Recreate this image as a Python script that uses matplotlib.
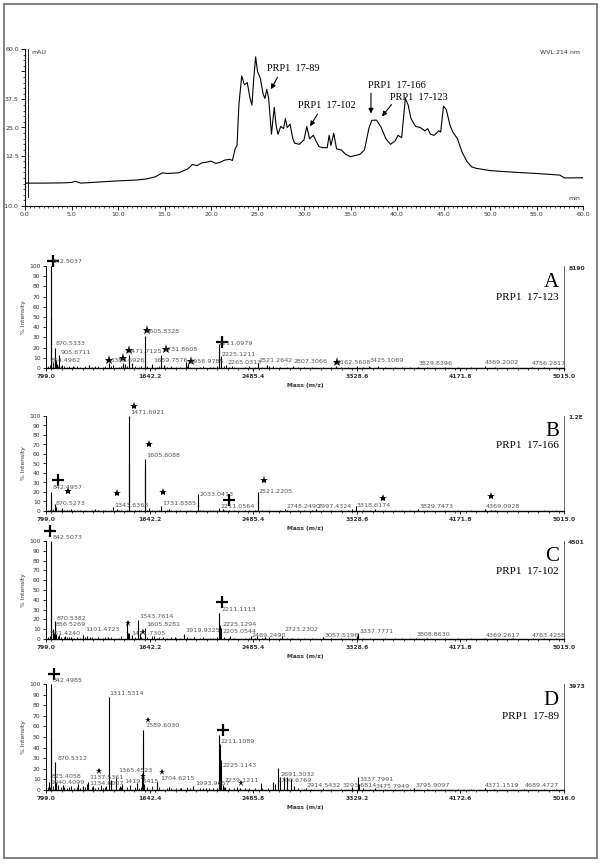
import numpy as np
import matplotlib.pyplot as plt
from matplotlib.patches import Rectangle
from matplotlib.ticker import MultipleLocator

W, H = 601, 863
SERIF = 'Liberation Serif'
GREY = '#555555'

# ---------------- chromatogram (min, mAU) ----------------
chrom_t = [0.0, 2.0, 4.0, 5.0, 5.4, 6.0, 8.0, 10.0, 12.0, 13.0, 14.0, 14.8, 15.3, 16.5, 17.5,
           18.0, 18.5, 19.0, 19.5, 20.0, 20.5, 21.0, 21.5, 22.0, 22.3, 22.6, 22.8, 23.0, 23.3,
           23.6, 23.9, 24.2, 24.4, 24.6, 24.8, 25.0, 25.3, 25.6, 25.8, 26.0, 26.2, 26.5, 26.8,
           27.0, 27.2, 27.5, 27.8, 28.0, 28.2, 28.5, 28.8, 29.0, 29.5, 30.0, 30.3, 30.6, 31.0,
           31.3, 31.6, 32.0, 32.5, 32.7, 32.9, 33.2, 33.5, 34.0, 34.5, 35.0, 35.5, 36.0, 36.5,
           37.0, 37.3, 37.8, 38.3, 38.8, 39.3, 39.8, 40.1, 40.5, 40.9, 41.2, 41.5, 42.0, 42.5,
           43.0, 43.3, 43.6, 44.0, 44.5, 44.7, 45.0, 45.3, 45.7, 46.0, 46.5, 47.0, 47.5, 48.0,
           48.5, 50.0, 52.0, 55.0, 57.5, 58.0, 60.0]
chrom_v = [0.2, 0.2, 0.3, 0.5, 1.0, 0.2, 0.7, 1.2, 1.6, 2.0, 3.0, 4.8, 4.5, 4.8, 6.5,
           8.5, 8.0, 9.2, 9.5, 10.0, 9.0, 9.5, 10.5, 10.8, 10.3, 15.5, 17.0, 35.0, 48.0,
           44.0, 45.0, 38.0, 35.0, 47.0, 56.5, 50.0, 47.0, 40.0, 38.0, 42.0, 38.0, 22.0, 34.0,
           26.0, 22.0, 25.5, 24.5, 29.0, 25.0, 26.5, 20.0, 18.0, 17.5, 19.5, 25.5, 20.0, 21.5,
           19.0, 16.5, 16.0, 16.0, 21.5, 17.0, 22.5, 15.5, 15.0, 13.0, 12.0, 12.5, 13.0, 15.0,
           25.0, 28.2, 28.3, 25.0, 20.0, 17.5, 19.0, 21.5, 20.5, 38.0, 35.0, 29.0, 25.5, 25.0,
           23.5, 24.5, 22.0, 21.5, 23.5, 23.0, 34.5, 33.0, 26.0, 23.0, 20.0, 14.0, 10.0, 7.5,
           6.8, 5.8, 5.2, 4.5, 3.8, 2.5, 2.6]
chrom_yticks = [-10.0, 12.5, 25.0, 37.5, 50.0, 60.0]
chrom_ylabels = ['-10.0', '12.5', '25.0', '37.5', '', '60.0']
chrom_notes = [  # text, text pos, arrow tail, arrow head
    ('PRP1  17-89', (26.0, 51.5), (27.3, 48.5), (26.3, 41.0)),
    ('PRP1  17-102', (29.4, 35.0), (31.6, 32.0), (30.5, 24.5)),
    ('PRP1  17-166', (36.9, 43.7), (37.2, 41.5), (37.2, 30.0)),
    ('PRP1  17-123', (39.3, 38.3), (39.6, 36.2), (38.2, 29.0)),
]

# small baseline peaks shared pattern positions (m/z)
noise_mz = [815, 828, 860, 895, 918, 945, 968, 990, 1030, 1052, 1075, 1120, 1170, 1195, 1225,
            1262, 1280, 1330, 1395, 1410, 1455, 1520, 1555, 1575, 1625, 1660, 1700, 1720, 1785,
            1820, 1860, 1890, 1950, 1975, 2050, 2080, 2130, 2160, 2190, 2250, 2290, 2330, 2420,
            2450, 2500, 2560, 2610, 2700, 2760, 2850, 2900, 2960, 3050, 3120, 3200, 3260, 3380,
            3440, 3560, 3640, 3700, 3760, 3900, 4050, 4150, 4260, 4450, 4600, 4850, 4950]
A_noise = [1.5, 2.5, 3, 2, 1.5, 2, 1, 1.5, 1, 1.5, 1, 2, 1, 1.5, 1.5,
           1, 2, 1.5, 1, 2, 1.5, 2, 1, 2, 1.5, 2.5, 1, 1.5, 1,
           1.5, 1, 1, 1.5, 1, 1, 1.5, 1, 1, 1.5, 2, 1, 1, 1,
           1.5, 1, 1, 1.5, 1, 1, 1, 1, 0.8, 1, 0.8, 0.8, 1, 1,
           0.8, 0.8, 0.8, 0.8, 0.8, 0.8, 0.6, 0.8, 0.6, 0.6, 0.6, 0.6, 0.6]
B_noise = [1, 1.5, 2, 1.5, 1, 1.5, 1, 1, 1, 1.2, 1, 1.5, 1, 1, 1.2,
           1, 1.5, 1.5, 1, 1.5, 1, 1.5, 1, 1, 1.5, 1.5, 1, 1, 1,
           1, 1, 1, 1, 1, 1, 1.5, 1, 1, 1, 1.5, 1, 1, 1,
           1, 1, 1, 1, 1, 1, 1, 1, 0.8, 1, 0.8, 0.8, 1, 1,
           0.8, 0.8, 0.8, 0.8, 0.8, 0.8, 0.6, 0.8, 0.6, 0.6, 0.6, 0.6, 0.6]
C_noise = [2, 3, 4, 3, 2, 2.5, 2, 2.5, 1.5, 2, 1.5, 2.5, 2, 1.5, 2,
           1.5, 2.5, 2, 1.5, 3, 2, 2.5, 1.5, 2.5, 2, 3, 1.5, 2, 1.5,
           2, 1.5, 1.5, 2, 1.5, 1.5, 2, 1.5, 1.5, 2, 2.5, 1.5, 1.5, 1.5,
           1.5, 1.5, 1.5, 2, 1.5, 1.5, 1, 1, 1, 1.5, 1, 1, 1, 1.5,
           1, 1, 1, 1, 1, 1, 0.8, 1, 0.8, 0.8, 0.8, 0.8, 0.8]
D_noise = [2.5, 3, 4, 3, 2.5, 3, 2, 3, 2, 2.5, 2, 3, 2.5, 2, 3,
           2, 3, 2.5, 2, 3, 2.5, 3, 2, 3, 2.5, 3.5, 2, 2.5, 2,
           2, 2, 2, 2.5, 2, 1.5, 2, 1.5, 1.5, 2, 2.5, 2, 1.5, 1.5,
           1.5, 1.5, 1.5, 2, 2, 1.5, 1.5, 1, 1, 1.5, 1, 1, 1, 1.5,
           1, 1, 1, 1, 1, 1, 0.8, 1, 0.8, 0.8, 0.8, 0.8, 0.8]

# ---------------- spectrum A : PRP1 17-123 ----------------
A_mz = [842.5, 843.5, 854.5, 870.5, 878, 885, 905.7, 930, 1015, 1150, 1310, 1345, 1424, 1440,
        1471.7, 1495, 1605.8, 1659.8, 1731.9, 1760, 1935, 1957, 2211.1, 2225.1, 2265, 2310,
        2521.3, 2600, 2650, 2807.3, 3162.6, 3330, 3425.1, 3500, 3829.8, 4369.2, 4756.3]
A_int = [100, 50, 6, 20, 8, 4, 13, 3, 2, 3, 5, 3, 5, 4,
         13, 5, 31, 4, 13, 3, 6, 4, 24, 12, 3, 2,
         5, 3, 2, 2, 2, 2, 2, 1.5, 1.2, 1.5, 1]
A_lab = [(850, 104, '842.5037'), (877, 24, '870.5333'), (915, 15.4, '905.6711'),
         (836, 7.5, '854.4962'), (1325, 7.5, '1380.6926'), (1460, 16.5, '1471.7125'),
         (1605, 36, '1605.8328'), (1673, 7.5, '1659.7576'), (1755, 18.5, '1731.8608'),
         (1965, 6.5, '1956.9785'), (2200, 24.5, '2211.0979'), (2226, 13, '2225.1211'),
         (2273, 5, '2265.0313'), (2529, 7.5, '2521.2642'), (2810, 6, '2807.3066'),
         (3160, 5.5, '3162.5608'), (3429, 7.5, '3425.1069'), (3834, 4, '3829.8396'),
         (4372, 5.6, '4369.2002'), (4756, 4, '4756.2817')]
A_plus = [(852, 105), (2232, 25)]
A_star = [(1311, 8.2), (1426, 10), (1477, 17.5), (1617, 37.5), (1773, 19), (1983, 6.5), (3169, 5.6)]

# ---------------- spectrum B : PRP1 17-166 ----------------
B_mz = [842.5, 843.5, 870.5, 878, 930, 1000, 1200, 1343.6, 1380, 1471.7, 1472.7, 1605.8,
        1606.8, 1640, 1731.8, 1800, 2033.0, 2034, 2211.1, 2240, 2521.2, 2522, 2748.2,
        2997.4, 3290, 3318.6, 3480, 3829.7, 4369.1, 4420]
B_int = [20, 10, 7, 4, 3, 2, 2, 4, 2, 100, 50, 55,
         45, 3, 5, 2, 18, 8, 3, 2, 20, 10, 2,
         2, 2, 5, 2, 2, 2, 1]
B_lab = [(852, 24.8, '842.4957'), (874, 8, '870.5273'), (1352, 6.3, '1343.6368'),
         (1483, 103.5, '1471.6921'), (1617, 58.7, '1605.8088'), (1742, 8, '1731.8385'),
         (2045, 17.8, '2033.0413'), (2220, 5.2, '2211.0564'), (2529, 21, '2521.2205'),
         (2757, 4.5, '2748.2490'), (3007, 4.5, '2997.4324'), (3329, 6.3, '3318.6174'),
         (3841, 5.2, '3829.7473'), (4375, 4.5, '4369.0928')]
B_plus = [(893, 33), (2289, 12)]
B_star = [(977, 21), (1377, 18.5), (1517, 111), (1639, 71), (1752, 20), (2573, 32.5),
          (3538, 14), (4422, 16)]

# ---------------- spectrum C : PRP1 17-102 ----------------
C_mz = [842.5, 843.5, 856.5, 861.4, 870.5, 880, 905, 950, 1000, 1101.5, 1130, 1160, 1300,
        1460, 1467, 1471.7, 1500, 1543.8, 1560, 1605.8, 1680, 1750, 1850, 1919.9, 2000,
        2205, 2211.1, 2212, 2225.1, 2300, 2469.2, 2520, 2580, 2723.2, 2800, 3057.5, 3330,
        3337.8, 3808.9, 4369.3, 4763.4]
C_int = [100, 53, 10, 6, 18, 5, 4, 3, 2, 4, 3, 2, 2,
         17, 6, 6, 4, 19, 6, 11, 3, 2, 2, 5, 2,
         6, 27, 14, 11, 3, 3, 3, 2, 3, 1.5, 2, 3,
         6, 1.5, 1.5, 1]
C_lab = [(852, 103.7, '842.5073'), (883, 20.7, '870.5382'), (874, 14.6, '856.5269'),
         (836, 6, '861.4240'), (1118, 10, '1101.4723'), (1491, 6, '1471.7305'),
         (1555, 23, '1543.7614'), (1617, 14.6, '1605.8281'), (1936, 8.5, '1919.9325'),
         (2226, 30.5, '2211.1113'), (2236, 15, '2225.1294'), (2232, 7.8, '2205.0544'),
         (2476, 3.4, '2469.2490'), (2741, 9.5, '2723.2302'), (3069, 3.4, '3057.5196'),
         (3350, 7.8, '3337.7771'), (3819, 4.4, '3808.8630'), (4381, 3.7, '4369.2617'),
         (4756, 3.4, '4763.4258')]
C_plus = [(830, 110), (2235, 38)]
C_star = [(1464, 16), (1586, 7.5)]

# ---------------- spectrum D : PRP1 17-89 ----------------
D_mz = [825.4, 842.5, 843.5, 870.5, 880, 900, 940, 1000, 1060.4, 1100, 1134.6, 1137.5, 1180,
        1250, 1290, 1311.5, 1330, 1365.5, 1400, 1419.3, 1480, 1540, 1580, 1589.6, 1590.6,
        1600, 1704.6, 1800, 1900, 1994.0, 2100, 2211.1, 2212.1, 2225.1, 2239.1, 2260, 2350,
        2380, 2547, 2650, 2660, 2691.3, 2700, 2740, 2760, 2790, 2820, 2914.5, 3293, 3337.8,
        3345, 3475.8, 3795.9, 4371.2, 4689.5]
D_int = [8, 100, 50, 26, 8, 5, 5, 4, 6, 4, 6, 8, 4,
         5, 4, 88, 9, 12, 4, 6, 5, 7, 12, 57, 45,
         6, 8, 3, 2, 4, 2, 52, 43, 28, 5, 3, 3,
         2, 7, 8, 6, 21, 12, 12, 12, 10, 4, 2, 3, 12,
         6, 2, 2, 1.5, 1]
D_lab = [(850, 103, '842.4985'), (1311, 91, '1311.5314'), (893, 30, '870.5312'),
         (843, 13, '825.4058'), (836, 7, '1040.4099'), (1155, 11.6, '1137.5361'),
         (1155, 6, '1134.6007'), (1383, 18, '1365.4523'), (1436, 8, '1419.3415'),
         (1605, 60.7, '1589.6030'), (1727, 10.7, '1704.6215'), (2014, 5.7, '1993.9657'),
         (2223, 46, '2211.1089'), (2236, 23, '2225.1143'), (2252, 9.4, '2239.1211'),
         (2711, 15, '2691.3032'), (2680, 8.8, '2700.6769'), (2923, 3.8, '2914.5432'),
         (3211, 4, '3293.6814'), (3351, 10, '3337.7991'), (3486, 3, '3475.7949'),
         (3804, 4.7, '3795.9097'), (4373, 3.8, '4371.1519'), (4695, 3.8, '4689.4727')]
D_plus = [(862, 109), (2236, 56.6)]
D_star = [(1233, 18), (1586, 13.5), (1630, 66), (1742, 17), (2389, 7)]

ticks_abc = [799.0, 1642.2, 2485.4, 3328.6, 4171.8, 5015.0]
ticks_d = [799.0, 1642.4, 2485.8, 3329.2, 4172.6, 5016.0]


def rect(x0, x1, ytop, ybot):
    return [x0 / W, 1 - ybot / H, (x1 - x0) / W, (ybot - ytop) / H]


fig = plt.figure(figsize=(W / 100, H / 100), dpi=100)
fig.patches.append(Rectangle((4 / W, 1 - 858 / H), 593 / W, 854 / H, transform=fig.transFigure,
                             fill=False, edgecolor='#777777', lw=1.3))

# chromatogram
ax = fig.add_axes(rect(25, 583, 49, 206))
ax.plot(chrom_t, chrom_v, color='k', lw=0.8)
ax.set_xlim(0, 60)
ax.set_ylim(-10, 60)
ax.set_xticks(np.arange(0, 61, 5))
ax.set_xticklabels(['%.1f' % v for v in np.arange(0, 61, 5)])
ax.xaxis.set_minor_locator(MultipleLocator(0.5))
ax.set_yticks(chrom_yticks)
ax.set_yticklabels(chrom_ylabels)
ax.yaxis.set_minor_locator(MultipleLocator(2.5))
for s in ['top', 'right']:
    ax.spines[s].set_visible(False)
for s in ['left', 'bottom']:
    ax.spines[s].set_linewidth(0.8)
ax.tick_params(labelsize=4.5, length=3, width=0.6, pad=1.5, labelcolor='#333333')
ax.tick_params(which='minor', length=1.5, width=0.5)
ax.plot([0.006, 0.006], [0.06, 1.0], transform=ax.transAxes, color='k', lw=0.6, clip_on=False)
ax.text(0.012, 0.995, 'mAU', transform=ax.transAxes, fontsize=4.5, va='top', color='#333333')
ax.text(0.995, 0.995, 'WVL:214 nm', transform=ax.transAxes, fontsize=4.5, va='top', ha='right',
        color='#333333')
ax.text(0.995, 0.03, 'min', transform=ax.transAxes, fontsize=4.5, va='bottom', ha='right',
        color='#333333')
for txt, pos, tail, head in chrom_notes:
    ax.text(pos[0], pos[1], txt, fontsize=7.5, family=SERIF, va='center')
    ax.annotate('', xy=head, xytext=tail,
                arrowprops=dict(arrowstyle='-|>', lw=0.8, color='k', mutation_scale=7))


def spectrum(box, mz, inten, noise, labs, plus, star, ticks, letter, name, topval, star_ms):
    a = fig.add_axes(box)
    a.vlines(noise_mz, 0, noise, color='k', lw=0.6)
    a.vlines(mz, 0, inten, color='k', lw=0.8)
    a.set_xlim(ticks[0], ticks[-1])
    a.set_ylim(0, 100)
    a.set_xticks(ticks)
    a.set_xticklabels(['%.1f' % t for t in ticks])
    a.xaxis.set_minor_locator(MultipleLocator((ticks[1] - ticks[0]) / 10))
    a.set_yticks(range(0, 101, 10))
    a.spines['top'].set_visible(False)
    a.spines['right'].set_color('#666666')
    for s in ['left', 'bottom', 'right']:
        a.spines[s].set_linewidth(0.7)
    a.spines['bottom'].set_linewidth(1.0)
    a.tick_params(labelsize=4.3, length=2.5, width=0.6, pad=1.5, labelcolor='#333333')
    a.tick_params(which='minor', length=1.3, width=0.5)
    for lab in a.get_xticklabels():
        lab.set_fontweight('bold')
    a.set_xlabel('Mass (m/z)', fontsize=4.3, labelpad=3, color='#333333', fontweight='bold')
    a.set_ylabel('% Intensity', fontsize=4.3, labelpad=2, color='#333333')
    for x, y, t in labs:
        a.text(x, y, t, fontsize=4.6, color=GREY, va='center', ha='left', clip_on=False)
    for x, y in plus:
        a.plot(x, y, marker='+', ms=8, mew=1.6, color='k', clip_on=False)
    for x, y in star:
        a.plot(x, y, marker='*', ms=star_ms, color='k', mew=0, clip_on=False)
    a.text(0.99, 0.84, letter, transform=a.transAxes, fontsize=15, family=SERIF, ha='right',
           va='center')
    a.text(0.99, 0.69, name, transform=a.transAxes, fontsize=8, family=SERIF, ha='right',
           va='center')
    a.text(1.008, 0.98, topval, transform=a.transAxes, fontsize=4.3, fontweight='bold',
           ha='left', va='center', color='#333333')
    return a


spectrum(rect(46, 564, 266, 368), A_mz, A_int, A_noise, A_lab, A_plus, A_star, ticks_abc,
         'A', 'PRP1  17-123', '8190', 6.5)
spectrum(rect(46, 564, 416, 511), B_mz, B_int, B_noise, B_lab, B_plus, B_star, ticks_abc,
         'B', 'PRP1  17-166', '1.2E', 6)
spectrum(rect(46, 564, 541, 639), C_mz, C_int, C_noise, C_lab, C_plus, C_star, ticks_abc,
         'C', 'PRP1  17-102', '4501', 5)
spectrum(rect(46, 564, 684, 790), D_mz, D_int, D_noise, D_lab, D_plus, D_star, ticks_d,
         'D', 'PRP1  17-89', '3973', 5)

fig.savefig('out.png', dpi=100)
